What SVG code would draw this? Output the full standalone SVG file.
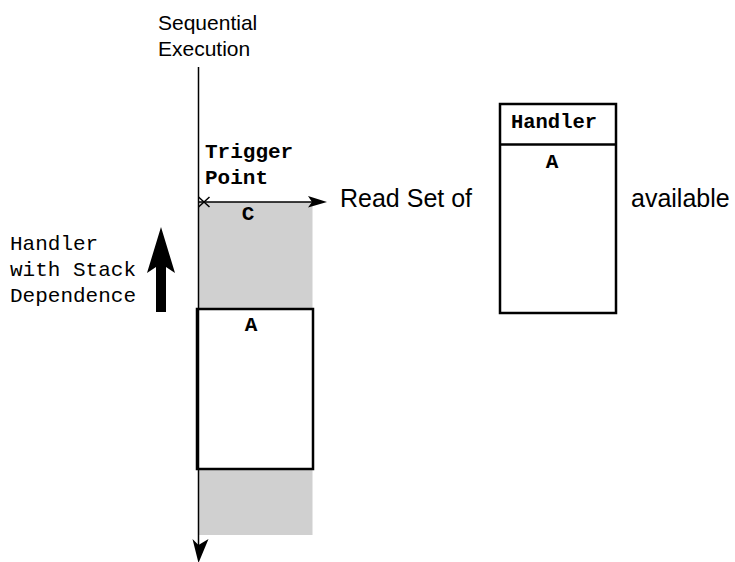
<svg xmlns="http://www.w3.org/2000/svg" width="735" height="562" viewBox="0 0 735 562">
  <style>
    .sans { font-family: "Liberation Sans", Arial, sans-serif; fill: #000; }
    .mono { font-family: "Liberation Mono", "Courier New", monospace; fill: #000; }
    .bold { font-weight: bold; }
    .box { fill: #fff; stroke: #000; stroke-width: 2.5; }
    .line { fill: none; stroke: #000; stroke-width: 1.5; }
    .head { fill: #000; stroke: none; }
  </style>

  <rect width="735" height="562" fill="#fff"/>

  <!-- shaded stack region -->
  <g id="stack-region">
    <rect x="198.5" y="202" width="114" height="333" fill="#d0d0d0"/>
    <text class="mono bold" x="248" y="220" font-size="21" text-anchor="middle">C</text>
  </g>

  <g id="frame-a">
    <rect class="box" x="197" y="309" width="116" height="160"/>
    <text class="mono bold" x="251" y="331" font-size="21" text-anchor="middle">A</text>
  </g>

  <g id="connectors">
    <!-- timeline -->
    <line class="line" x1="198.5" y1="67" x2="198.5" y2="555"/>
    <path class="head" d="M198.5,563 L192.5,539 L198.5,545 L208.5,539 Z"/>
    <!-- read-set arrow -->
    <line class="line" x1="198.5" y1="202" x2="318" y2="202"/>
    <path class="head" d="M327,202 L308,196 L312,202 L308,207.5 Z"/>
    <!-- trigger point cross -->
    <path class="line" d="M198.5,197 L209.5,207 M198.5,207 L209.5,197"/>
    <!-- thick up arrow -->
    <path d="M156,312 L156,267 L147,273 L161,227 L175,273 L166,267 L166,312 Z" fill="#000"/>
  </g>

  <g id="labels">
    <text class="sans" x="158" y="30" font-size="21">Sequential</text>
    <text class="sans" x="158" y="56" font-size="21">Execution</text>
    <text class="mono bold" x="205" y="158" font-size="21">Trigger</text>
    <text class="mono bold" x="205" y="184" font-size="21">Point</text>
    <text class="mono" x="10" y="250" font-size="21">Handler</text>
    <text class="mono" x="10" y="276" font-size="21">with Stack</text>
    <text class="mono" x="10" y="302" font-size="21">Dependence</text>
    <text class="sans" x="340" y="207" font-size="25">Read Set of</text>
    <text class="sans" x="631" y="207" font-size="25">available</text>
  </g>

  <g id="handler">
    <rect class="box" x="500" y="104" width="116" height="209"/>
    <line x1="500" y1="144.5" x2="616" y2="144.5" stroke="#000" stroke-width="2.5"/>
    <text class="mono bold" x="554" y="128" font-size="20.5" text-anchor="middle">Handler</text>
    <text class="mono bold" x="552" y="168" font-size="21" text-anchor="middle">A</text>
  </g>
</svg>
